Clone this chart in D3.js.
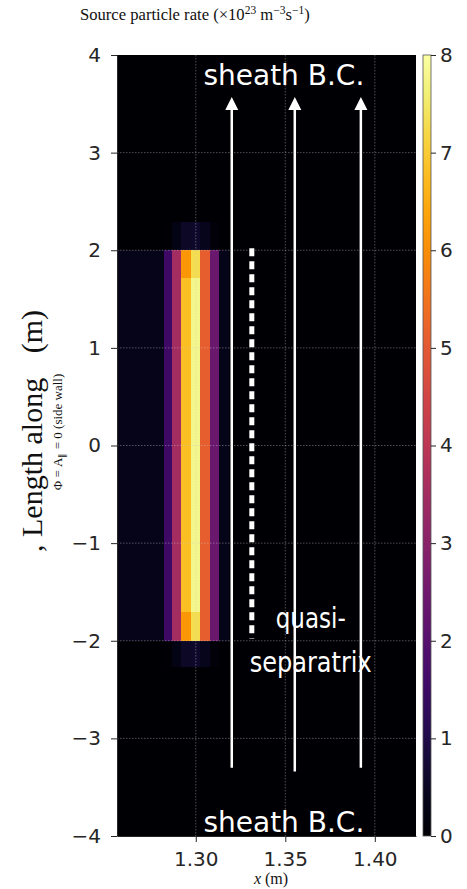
<!DOCTYPE html>
<html>
<head>
<meta charset="utf-8">
<script src="https://cdn.jsdelivr.net/npm/d3@7"></script>
<style>
body { margin: 0; background: #fff; }
svg { display: block; }
</style>
</head>
<body>
<script>
// cell edges: x (m) and length along the field line (m)
var xEdges = [1.256, 1.2612, 1.2664, 1.2716, 1.2768, 1.282, 1.2866, 1.2916, 1.2974, 1.3024, 1.3077, 1.313, 1.3184, 1.423];
var yEdges = [-2.27, -2.0, -1.71, 1.72, 2.0, 2.29];

// source rate (x10^23 m^-3 s^-1), one value per x cell, rows bottom to top
var rowGlow = [0, 0, 0, 0, 0, 0.05, 0.3, 0.55, 0.6, 0.4, 0.15, 0.03, 0];
var rowEdge = [0.35, 0.35, 0.35, 0.35, 0.35, 1.5, 3.5, 6.15, 7.3, 5.1, 2.4, 0.35, 0];
var rowCore = [0.35, 0.35, 0.35, 0.35, 0.35, 1.5, 3.5, 6.8, 7.75, 5.1, 2.4, 0.35, 0];
var rows = [rowGlow, rowEdge, rowCore, rowEdge, rowGlow];

var xTicks = [1.30, 1.35, 1.40];
var yTicks = [-4, -3, -2, -1, 0, 1, 2, 3, 4];
var cbTicks = [0, 1, 2, 3, 4, 5, 6, 7, 8];

// annotations
var arrowX = [1.3201, 1.3553, 1.3922];
var arrowBottom = [-3.30, -3.34, -3.30];
var arrowTop = 3.57;
var sepX = 1.3313;
var sepY = [-1.98, 2.02];

var width = 467, height = 889;
var plot = {left: 117, right: 416, top: 55, bottom: 836};

var x = d3.scaleLinear().domain([1.256, 1.423]).range([plot.left, plot.right]);
var y = d3.scaleLinear().domain([-4, 4]).range([plot.bottom, plot.top]);
var color = d3.scaleSequential(d3.interpolateInferno).domain([0, 8]);

var svg = d3.select("body").append("svg")
    .attr("width", width)
    .attr("height", height);

// background of the axes = value 0
svg.append("rect")
    .attr("x", plot.left)
    .attr("y", plot.top)
    .attr("width", plot.right - plot.left)
    .attr("height", plot.bottom - plot.top)
    .style("fill", color(0));

var cells = [];
rows.forEach(function(r, j) {
    r.forEach(function(v, i) {
        cells.push({x0: xEdges[i], x1: xEdges[i + 1], y0: yEdges[j], y1: yEdges[j + 1], v: v});
    });
});

svg.append("g").selectAll("rect")
    .data(cells)
    .enter()
    .append("rect")
    .attr("x", d => x(d.x0))
    .attr("y", d => y(d.y1))
    .attr("width", d => x(d.x1) - x(d.x0))
    .attr("height", d => y(d.y0) - y(d.y1))
    .attr("shape-rendering", "crispEdges")
    .style("fill", d => color(d.v));

// dotted grid
var grid = svg.append("g")
    .style("stroke", "#c8c8c8")
    .style("stroke-opacity", 0.5)
    .style("stroke-width", 0.8)
    .style("stroke-dasharray", "1.5,1.5");
grid.selectAll(".gx").data(xTicks).enter().append("line")
    .attr("x1", d => x(d)).attr("x2", d => x(d))
    .attr("y1", plot.top).attr("y2", plot.bottom);
grid.selectAll(".gy").data(yTicks.slice(1, -1)).enter().append("line")
    .attr("x1", plot.left).attr("x2", plot.right)
    .attr("y1", d => y(d)).attr("y2", d => y(d));

// quasi-separatrix dashed line
svg.append("line")
    .attr("x1", x(sepX)).attr("x2", x(sepX))
    .attr("y1", y(sepY[1])).attr("y2", y(sepY[0]))
    .style("stroke", "#fff")
    .style("stroke-width", 5)
    .style("stroke-dasharray", "8,5");

// field line arrows
var arrows = svg.append("g");
arrowX.forEach(function(ax, i) {
    var px = x(ax), tip = y(arrowTop);
    arrows.append("line")
        .attr("x1", px).attr("x2", px)
        .attr("y1", y(arrowBottom[i])).attr("y2", tip + 10)
        .style("stroke", "#fff")
        .style("stroke-width", 2.5);
    arrows.append("path")
        .attr("d", "M" + px + "," + tip + "L" + (px - 6.5) + "," + (tip + 13) + "L" + (px + 6.5) + "," + (tip + 13) + "Z")
        .style("fill", "#fff");
});

// labels inside the plot
svg.append("text")
    .attr("x", x(1.3492)).attr("y", y(3.69))
    .attr("text-anchor", "middle")
    .style("font-family", "DejaVu Sans")
    .style("font-size", "28px")
    .style("fill", "#fff")
    .text("sheath B.C.");
svg.append("text")
    .attr("x", x(1.3492)).attr("y", y(-3.96))
    .attr("text-anchor", "middle")
    .style("font-family", "DejaVu Sans")
    .style("font-size", "28px")
    .style("fill", "#fff")
    .text("sheath B.C.");
svg.append("text")
    .attr("x", x(1.3642)).attr("y", y(-1.87))
    .attr("text-anchor", "middle")
    .attr("textLength", 70)
    .attr("lengthAdjust", "spacingAndGlyphs")
    .style("font-family", "DejaVu Sans")
    .style("font-size", "28px")
    .style("fill", "#fff")
    .text("quasi-");
svg.append("text")
    .attr("x", x(1.3642)).attr("y", y(-2.32))
    .attr("text-anchor", "middle")
    .attr("textLength", 122)
    .attr("lengthAdjust", "spacingAndGlyphs")
    .style("font-family", "DejaVu Sans")
    .style("font-size", "28px")
    .style("fill", "#fff")
    .text("separatrix");

// axes
var xAxis = d3.axisBottom(x).tickValues(xTicks).tickFormat(d3.format(".2f")).tickSize(6).tickSizeOuter(0).tickPadding(10);
var yAxis = d3.axisLeft(y).tickValues(yTicks).tickFormat(d3.format("d")).tickSize(6).tickSizeOuter(0).tickPadding(10);

svg.append("g")
    .attr("class", "x axis")
    .attr("transform", "translate(0," + plot.bottom + ")")
    .call(xAxis);
svg.append("g")
    .attr("class", "y axis")
    .attr("transform", "translate(" + plot.left + ",0)")
    .call(yAxis);

// colorbar
var cbX = 423, cbW = 8;
var cb = d3.scaleLinear().domain([0, 8]).range([plot.bottom, plot.top]);
var grad = svg.append("defs").append("linearGradient")
    .attr("id", "inferno")
    .attr("x1", 0).attr("y1", 1).attr("x2", 0).attr("y2", 0);
grad.selectAll("stop")
    .data(d3.range(0, 1.0001, 0.05))
    .enter().append("stop")
    .attr("offset", d => d)
    .attr("stop-color", d => d3.interpolateInferno(d));
svg.append("rect")
    .attr("x", cbX).attr("y", plot.top)
    .attr("width", cbW).attr("height", plot.bottom - plot.top)
    .style("fill", "url(#inferno)")
    .style("stroke", "#555")
    .style("stroke-width", 0.8);
svg.append("g")
    .attr("class", "cb axis")
    .attr("transform", "translate(" + (cbX + cbW) + ",0)")
    .call(d3.axisRight(cb).tickValues(cbTicks).tickSize(5).tickSizeOuter(0).tickPadding(4))
    .select(".domain").remove();

svg.selectAll(".axis text")
    .style("font-family", "DejaVu Sans")
    .style("font-size", "20px")
    .style("fill", "#262626");
svg.selectAll(".axis line, .axis path")
    .style("stroke", "#262626");

// titles
var serif = "Liberation Serif, Times New Roman, serif";
var title = svg.append("text")
    .attr("x", 80).attr("y", 20)
    .style("font-family", serif)
    .style("font-size", "16.6px")
    .style("fill", "#111");
title.append("tspan").text("Source particle rate (\u00d710");
title.append("tspan").attr("dy", -6).style("font-size", "11.5px").text("23");
title.append("tspan").attr("dy", 6).text(" m");
title.append("tspan").attr("dy", -6).style("font-size", "11.5px").text("\u22123");
title.append("tspan").attr("dy", 6).text("s");
title.append("tspan").attr("dy", -6).style("font-size", "11.5px").text("\u22121");
title.append("tspan").attr("dy", 6).text(")");

var xl = svg.append("text")
    .attr("x", 271).attr("y", 884)
    .attr("text-anchor", "middle")
    .style("font-family", serif)
    .style("font-size", "16px")
    .style("fill", "#111");
xl.append("tspan").style("font-style", "italic").text("x");
xl.append("tspan").text(" (m)");

svg.append("text")
    .attr("transform", "translate(42,552) rotate(-90)")
    .style("font-family", serif)
    .style("font-size", "30px")
    .style("fill", "#111")
    .text(", Length along");
svg.append("text")
    .attr("transform", "translate(42,310) rotate(-90)")
    .attr("text-anchor", "end")
    .style("font-family", serif)
    .style("font-size", "30px")
    .style("fill", "#111")
    .text("(m)");
var sub = svg.append("text")
    .attr("transform", "translate(62,432) rotate(-90)")
    .attr("text-anchor", "middle")
    .style("font-family", serif)
    .style("font-size", "13px")
    .style("fill", "#111");
sub.append("tspan").text("\u03a6 = A");
sub.append("tspan").attr("dy", 3).style("font-size", "9px").text("\u2225");
sub.append("tspan").attr("dy", -3).text(" = 0 (side wall)");
</script>
</body>
</html>
